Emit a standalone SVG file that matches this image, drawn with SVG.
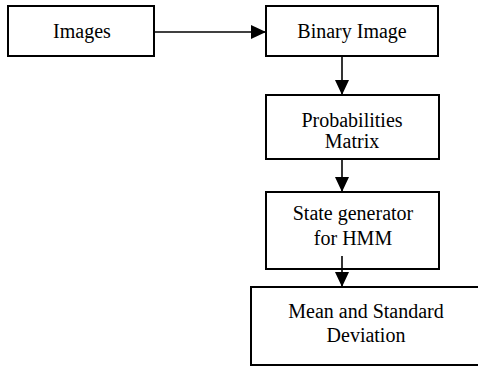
<svg xmlns="http://www.w3.org/2000/svg" width="478" height="367" viewBox="0 0 478 367">
<style>
.box{fill:#fff;stroke:#000;stroke-width:2}
.edge{stroke:#000;stroke-width:1.6;fill:none}
</style>
<defs>
<marker id="ah" markerUnits="userSpaceOnUse" markerWidth="16" markerHeight="14" refX="15" refY="7" orient="auto">
<path d="M0,0 L15,7 L0,14 Z" fill="#000"/>
</marker>
</defs>
<rect width="478" height="367" fill="#fff"/>
<g font-family="'Liberation Serif', 'Times New Roman', Times, serif" font-size="20" text-anchor="middle" fill="#000">
<g id="images">
<rect class="box" x="8" y="6" width="146" height="50"/>
<text x="82" y="38">Images</text>
</g>
<g id="binary">
<rect class="box" x="266" y="6" width="172" height="50"/>
<text x="352" y="38">Binary Image</text>
</g>
<g id="prob">
<rect class="box" x="266" y="95" width="173" height="64"/>
<text x="352" y="127">Probabilities</text>
<text x="352" y="148">Matrix</text>
</g>
<g id="state">
<rect class="box" x="266" y="192" width="173" height="77"/>
<text x="353" y="220">State generator</text>
<text x="353" y="245">for HMM</text>
</g>
<g id="mean">
<rect class="box" x="251" y="287" width="240" height="78"/>
<text x="366" y="318">Mean and Standard</text>
<text x="366" y="342">Deviation</text>
</g>
</g>
<g id="connectors">
<line class="edge" x1="154" y1="32" x2="266" y2="32" marker-end="url(#ah)"/>
<line class="edge" x1="342" y1="56" x2="342" y2="95" marker-end="url(#ah)"/>
<line class="edge" x1="342" y1="159" x2="342" y2="192" marker-end="url(#ah)"/>
<line class="edge" x1="342" y1="256" x2="342" y2="287" marker-end="url(#ah)"/>
</g>
</svg>
